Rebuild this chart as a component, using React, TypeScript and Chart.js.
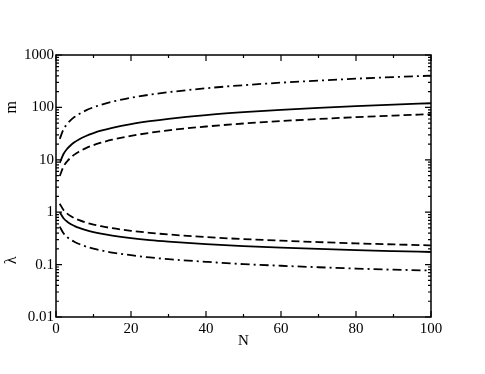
import React, { useEffect, useRef } from "react";
import { Chart, registerables } from "chart.js";

Chart.register(...registerables);

const N = [1, 2, 3, 4, 5, 6, 8, 10, 12, 15, 20, 25, 30, 40, 50, 60, 70, 80, 90, 100];

const mSolid = [8.7, 12.9, 16.3, 19.2, 21.8, 24.2, 28.5, 32.3, 35.9, 40.7, 48.0, 54.5, 60.5, 71.3, 80.9, 89.8, 98.0, 105.8, 113.1, 120.1];
const mDashed = [4.9, 7.4, 9.4, 11.1, 12.7, 14.1, 16.7, 19.1, 21.2, 24.2, 28.7, 32.7, 36.5, 43.2, 49.3, 54.8, 60.1, 65.0, 69.7, 74.2];
const mDashDot = [25, 38.0, 48.5, 57.8, 66.1, 73.8, 87.8, 100.5, 112.2, 128.3, 152.7, 174.7, 195, 232, 265.5, 296.5, 325, 353, 379, 403];
const lSolid = [1.0, 0.768, 0.659, 0.59, 0.543, 0.506, 0.454, 0.417, 0.389, 0.357, 0.32, 0.294, 0.275, 0.246, 0.226, 0.211, 0.199, 0.189, 0.181, 0.174];
const lDashed = [1.45, 1.101, 0.938, 0.837, 0.765, 0.712, 0.635, 0.581, 0.541, 0.495, 0.442, 0.404, 0.376, 0.335, 0.307, 0.286, 0.269, 0.254, 0.243, 0.233];
const lDashDot = [0.53, 0.396, 0.334, 0.296, 0.27, 0.25, 0.221, 0.201, 0.187, 0.17, 0.151, 0.137, 0.127, 0.113, 0.102, 0.095, 0.089, 0.084, 0.08, 0.077];

const xMajorTicks = [0, 20, 40, 60, 80, 100];
const xMinorTicks = [10, 30, 50, 70, 90];
const yDecadeTicks = [0.01, 0.1, 1, 10, 100, 1000];
const yTickLabels = ["0.01", "0.1", "1", "10", "100", "1000"];

const FONT = '"Liberation Serif", "Times New Roman", serif';

const SOLID: number[] = [];
const DASHED = [8, 4];
const DASHDOT = [9, 4, 2, 4];

function series(values: number[]) {
  return N.map((n, i) => ({ x: n, y: values[i] }));
}

const framePlugin = {
  id: "frameTicks",
  afterDatasetsDraw(chart: any) {
    const { ctx, chartArea } = chart;
    const { left, right, top, bottom } = chartArea;
    const xs = chart.scales.x;
    const ys = chart.scales.y;
    ctx.save();
    ctx.strokeStyle = "#000";
    ctx.lineWidth = 1.5;
    ctx.setLineDash([]);
    ctx.strokeRect(left, top, right - left, bottom - top);
    ctx.lineWidth = 1.2;
    const major = 6;
    const minor = 3;
    ctx.beginPath();
    xMajorTicks.forEach((v) => {
      const px = xs.getPixelForValue(v);
      ctx.moveTo(px, bottom);
      ctx.lineTo(px, bottom - major);
      ctx.moveTo(px, top);
      ctx.lineTo(px, top + major);
    });
    xMinorTicks.forEach((v) => {
      const px = xs.getPixelForValue(v);
      ctx.moveTo(px, bottom);
      ctx.lineTo(px, bottom - minor);
      ctx.moveTo(px, top);
      ctx.lineTo(px, top + minor);
    });
    yDecadeTicks.forEach((d, i) => {
      const py = ys.getPixelForValue(d);
      ctx.moveTo(left, py);
      ctx.lineTo(left + major, py);
      ctx.moveTo(right, py);
      ctx.lineTo(right - major, py);
      if (i < yDecadeTicks.length - 1) {
        for (let k = 2; k <= 9; k++) {
          const pm = ys.getPixelForValue(d * k);
          ctx.moveTo(left, pm);
          ctx.lineTo(left + minor, pm);
          ctx.moveTo(right, pm);
          ctx.lineTo(right - minor, pm);
        }
      }
    });
    ctx.stroke();

    ctx.fillStyle = "#000";
    ctx.font = `16px ${FONT}`;
    ctx.textAlign = "center";
    ctx.textBaseline = "middle";
    const drawRot = (text: string, x: number, y: number) => {
      ctx.save();
      ctx.translate(x, y);
      ctx.rotate(-Math.PI / 2);
      ctx.fillText(text, 0, 0);
      ctx.restore();
    };
    drawRot("m", 12, ys.getPixelForValue(100));
    drawRot("λ", 12, ys.getPixelForValue(0.12));
    ctx.restore();
  },
};

export default function App() {
  const ref = useRef<HTMLCanvasElement | null>(null);
  useEffect(() => {
    if (!ref.current) return;
    const mk = (label: string, values: number[], dash: number[]) => ({
      label,
      data: series(values),
      borderColor: "#000",
      borderWidth: 1.8,
      borderDash: dash,
      pointRadius: 0,
      fill: false,
      cubicInterpolationMode: "monotone" as const,
    });
    const chart = new Chart(ref.current, {
      type: "line",
      data: {
        datasets: [
          mk("m solid", mSolid, SOLID),
          mk("m dashed", mDashed, DASHED),
          mk("m dash-dot", mDashDot, DASHDOT),
          mk("λ solid", lSolid, SOLID),
          mk("λ dashed", lDashed, DASHED),
          mk("λ dash-dot", lDashDot, DASHDOT),
        ],
      },
      plugins: [framePlugin],
      options: {
        animation: false,
        responsive: false,
        devicePixelRatio: 1,
        layout: { padding: { top: 55, right: 54, left: 0, bottom: 0 } },
        plugins: { legend: { display: false }, tooltip: { enabled: false } },
        scales: {
          x: {
            type: "linear",
            min: 0,
            max: 100,
            grid: { display: false, drawTicks: false },
            border: { display: false },
            afterBuildTicks: (scale: any) => {
              scale.ticks = xMajorTicks.map((v) => ({ value: v }));
            },
            afterFit: (scale: any) => {
              scale.height = 57;
            },
            ticks: {
              color: "#000",
              padding: 3,
              maxRotation: 0,
              autoSkip: false,
              font: { family: FONT, size: 15 },
              callback: (v: any) => String(v),
            },
            title: {
              display: true,
              text: "N",
              color: "#000",
              font: { family: FONT, size: 15 },
              padding: { top: 24, bottom: 24 },
            },
          },
          y: {
            type: "logarithmic",
            min: 0.01,
            max: 1000,
            grid: { display: false, drawTicks: false },
            border: { display: false },
            afterBuildTicks: (scale: any) => {
              scale.ticks = yDecadeTicks.map((v) => ({ value: v }));
            },
            afterFit: (scale: any) => {
              scale.width = 56;
            },
            ticks: {
              color: "#000",
              padding: 2,
              autoSkip: false,
              font: { family: FONT, size: 15 },
              callback: (v: any) => {
                const i = yDecadeTicks.findIndex((d) => Math.abs(d - Number(v)) / d < 1e-6);
                return i >= 0 ? yTickLabels[i] : "";
              },
            },
          },
        },
      },
    });
    return () => chart.destroy();
  }, []);
  return (
    <div style={{ position: "absolute", left: 0, top: 0, width: 485, height: 374, background: "#fff" }}>
      <canvas ref={ref} width={485} height={374} />
    </div>
  );
}
